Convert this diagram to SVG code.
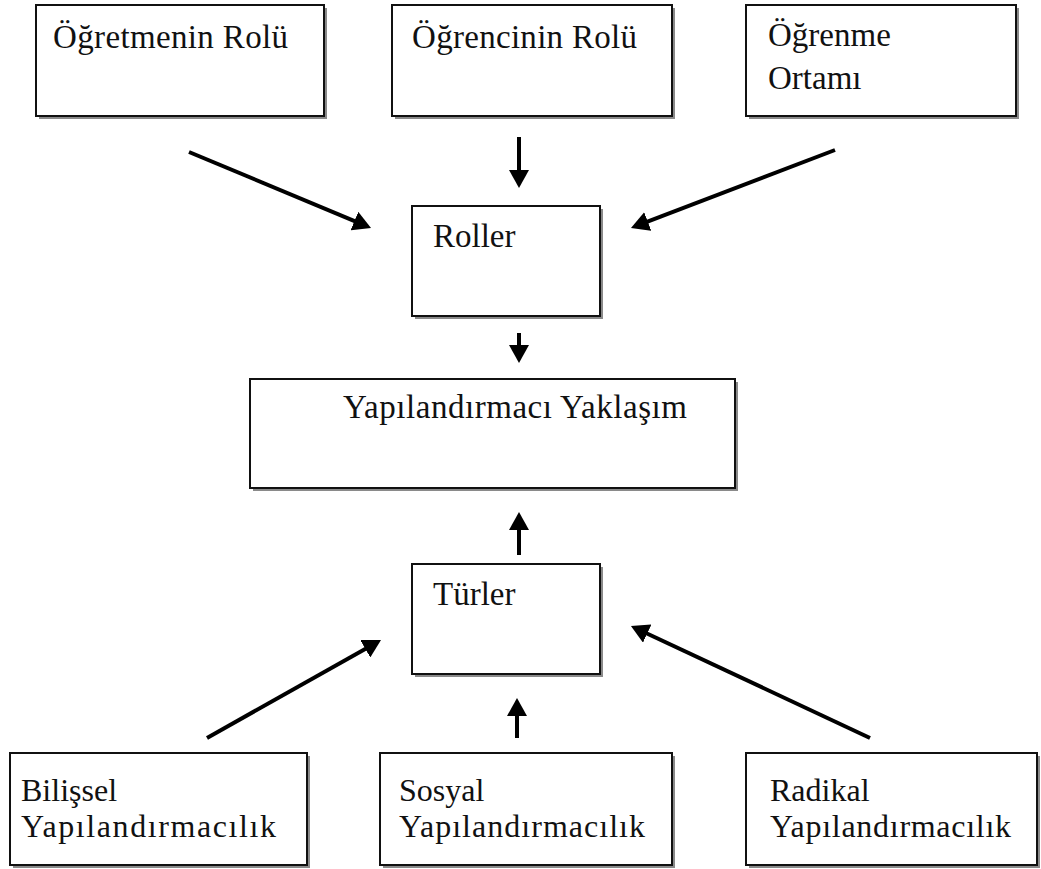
<svg xmlns="http://www.w3.org/2000/svg" width="1041" height="869" viewBox="0 0 1041 869">
<style>
.shadow{fill:#8a8a8a;stroke:none}
.box{fill:#fff;stroke:#111;stroke-width:2}
.t{font-family:"Liberation Serif","Times New Roman",serif;font-size:33px;fill:#111}
.s{font-size:32px}
.c{stroke:#000;stroke-width:4;fill:none;marker-end:url(#ah)}
</style>
<defs>
<marker id="ah" markerUnits="userSpaceOnUse" markerWidth="20" markerHeight="20" refX="8" refY="10" orient="auto">
<path d="M0,0 L18,10 L0,20 z" fill="#000"/>
</marker>
</defs>
<rect width="1041" height="869" fill="#fff"/>
<g id="ogretmen">
<rect class="shadow" x="39" y="8" width="288" height="111"/>
<rect class="box" x="36" y="5" width="288" height="111"/>
<text class="t" x="53" y="48" textLength="235" lengthAdjust="spacing">Öğretmenin Rolü</text>
</g>
<g id="ogrenci">
<rect class="shadow" x="395" y="8" width="280" height="111"/>
<rect class="box" x="392" y="5" width="280" height="111"/>
<text class="t" x="412" y="48" textLength="225" lengthAdjust="spacing">Öğrencinin Rolü</text>
</g>
<g id="ortam">
<rect class="shadow" x="749" y="8" width="270" height="111"/>
<rect class="box" x="746" y="5" width="270" height="111"/>
<text class="t" x="768" y="46">Öğrenme</text>
<text class="t" x="768" y="89">Ortamı</text>
</g>
<g id="roller">
<rect class="shadow" x="415" y="209" width="188" height="110"/>
<rect class="box" x="412" y="206" width="188" height="110"/>
<text class="t" x="433" y="247">Roller</text>
</g>
<g id="yaklasim">
<rect class="shadow" x="253" y="382" width="485" height="109"/>
<rect class="box" x="250" y="379" width="485" height="109"/>
<text class="t" x="343" y="418" textLength="344" lengthAdjust="spacing">Yapılandırmacı Yaklaşım</text>
</g>
<g id="turler">
<rect class="shadow" x="415" y="567" width="188" height="110"/>
<rect class="box" x="412" y="564" width="188" height="110"/>
<text class="t" x="433" y="605">Türler</text>
</g>
<g id="bilissel">
<rect class="shadow" x="13" y="756" width="297" height="112"/>
<rect class="box" x="10" y="753" width="297" height="112"/>
<text class="t s" x="21" y="801">Bilişsel</text>
<text class="t s" x="21" y="837" textLength="255" lengthAdjust="spacing">Yapılandırmacılık</text>
</g>
<g id="sosyal">
<rect class="shadow" x="383" y="756" width="292" height="112"/>
<rect class="box" x="380" y="753" width="292" height="112"/>
<text class="t s" x="399" y="801">Sosyal</text>
<text class="t s" x="399" y="837" textLength="246" lengthAdjust="spacing">Yapılandırmacılık</text>
</g>
<g id="radikal">
<rect class="shadow" x="749" y="756" width="291" height="112"/>
<rect class="box" x="746" y="753" width="291" height="112"/>
<text class="t s" x="770" y="801">Radikal</text>
<text class="t s" x="770" y="837" textLength="241" lengthAdjust="spacing">Yapılandırmacılık</text>
</g>
<g id="connectors">
<line class="c" x1="189" y1="152" x2="361.8" y2="224.1"/>
<line class="c" x1="519" y1="137" x2="519" y2="178"/>
<line class="c" x1="835" y1="150" x2="640.3" y2="224.4"/>
<line class="c" x1="519" y1="333" x2="519" y2="353"/>
<line class="c" x1="519" y1="555" x2="519" y2="522"/>
<line class="c" x1="517" y1="738" x2="517" y2="708"/>
<line class="c" x1="207" y1="738" x2="372.3" y2="644.9"/>
<line class="c" x1="870" y1="738" x2="640" y2="630.2"/>
</g>
</svg>
